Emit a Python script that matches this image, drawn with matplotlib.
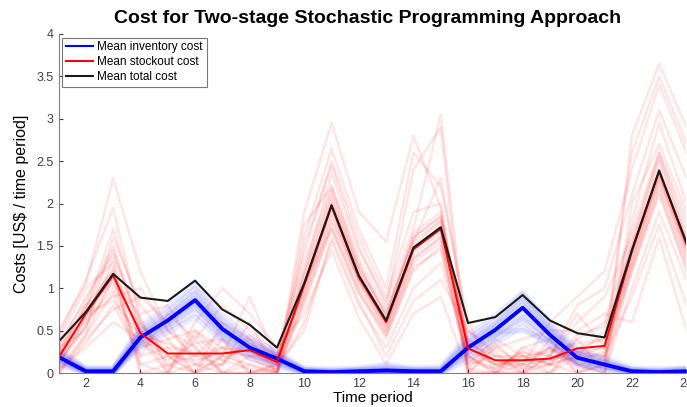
import matplotlib
matplotlib.use("Agg")
import matplotlib.pyplot as plt
import numpy as np

periods = list(range(1, 25))

mean_inventory = [0.19, 0.02, 0.02, 0.42, 0.62, 0.86, 0.52, 0.30, 0.17, 0.02, 0.01, 0.02,
                  0.03, 0.02, 0.02, 0.30, 0.51, 0.77, 0.45, 0.18, 0.10, 0.02, 0.01, 0.02]
mean_stockout = [0.18, 0.70, 1.15, 0.47, 0.23, 0.23, 0.23, 0.27, 0.13, 1.04, 1.97, 1.13,
                 0.60, 1.46, 1.70, 0.29, 0.15, 0.15, 0.17, 0.29, 0.32, 1.43, 2.38, 1.52]
mean_total = [0.37, 0.72, 1.17, 0.89, 0.85, 1.09, 0.75, 0.57, 0.30, 1.06, 1.98, 1.15,
              0.62, 1.48, 1.72, 0.59, 0.66, 0.92, 0.62, 0.47, 0.42, 1.45, 2.39, 1.54]

stockout_scenarios = [
    [0.05, 0.45, 0.95, 0.10, 0.00, 0.10, 0.30, 0.00, 0.00, 0.80, 1.75, 1.00, 0.45, 1.20, 1.50, 0.05, 0.00, 0.00, 0.10, 0.20, 0.30, 1.20, 2.20, 1.30],
    [0.30, 0.90, 1.40, 0.60, 0.20, 0.00, 0.10, 0.40, 0.20, 1.30, 2.20, 1.35, 0.75, 1.60, 1.85, 0.30, 0.10, 0.20, 0.00, 0.40, 0.60, 1.70, 2.60, 1.80],
    [0.50, 1.05, 2.30, 1.20, 0.50, 0.30, 0.00, 0.00, 0.05, 1.90, 2.95, 1.90, 1.55, 2.80, 1.95, 0.00, 0.30, 0.10, 0.30, 0.00, 0.10, 2.80, 3.65, 2.90],
    [0.10, 0.60, 1.00, 0.30, 0.40, 0.50, 0.20, 0.10, 0.00, 0.60, 1.55, 0.80, 0.30, 1.00, 1.30, 0.20, 0.00, 0.30, 0.40, 0.10, 0.00, 1.00, 1.90, 1.10],
    [0.20, 0.70, 1.25, 0.00, 0.10, 0.20, 0.50, 0.30, 0.10, 1.10, 2.05, 1.25, 0.70, 1.55, 2.30, 0.50, 0.20, 0.00, 0.20, 0.60, 0.90, 1.60, 2.55, 1.60],
    [0.00, 0.40, 0.75, 0.90, 0.60, 0.10, 0.00, 0.20, 0.00, 0.90, 1.80, 1.10, 0.50, 1.35, 1.60, 0.10, 0.40, 0.20, 0.10, 0.20, 0.20, 1.30, 2.30, 1.40],
    [0.35, 0.85, 1.50, 0.50, 0.00, 0.40, 0.80, 0.50, 0.25, 1.40, 2.50, 1.60, 0.90, 1.90, 2.00, 0.00, 0.00, 0.10, 0.60, 0.90, 1.20, 2.40, 3.40, 2.60],
    [0.15, 0.55, 1.10, 0.20, 0.30, 0.00, 0.20, 0.90, 0.15, 1.00, 1.95, 1.10, 0.60, 1.45, 1.75, 0.40, 0.10, 0.00, 0.00, 0.30, 0.40, 1.50, 2.40, 1.50],
    [0.25, 0.75, 1.70, 0.70, 0.80, 0.30, 0.00, 0.10, 0.00, 1.20, 2.35, 1.45, 0.85, 1.70, 3.05, 0.20, 0.05, 0.25, 0.10, 0.00, 0.10, 1.80, 2.95, 2.00],
    [0.05, 0.30, 0.60, 0.40, 0.00, 0.60, 1.00, 0.70, 0.30, 0.70, 1.45, 0.65, 0.10, 0.70, 0.90, 0.00, 0.30, 0.40, 0.50, 0.50, 0.70, 0.60, 1.60, 0.50],
    [0.40, 1.00, 1.30, 0.10, 0.20, 0.00, 0.40, 0.00, 0.10, 1.60, 2.65, 1.70, 1.00, 2.60, 2.20, 0.60, 0.00, 0.00, 0.20, 0.80, 1.00, 2.10, 3.10, 2.30],
    [0.10, 0.65, 0.90, 1.00, 0.50, 0.20, 0.10, 0.60, 0.00, 1.05, 1.70, 0.95, 0.40, 1.25, 1.45, 0.10, 0.20, 0.15, 0.30, 0.10, 0.00, 1.25, 2.15, 1.20],
    [0.20, 0.80, 1.20, 0.00, 0.00, 0.50, 0.30, 0.20, 0.20, 0.95, 2.00, 1.20, 0.55, 1.50, 1.80, 0.30, 0.15, 0.10, 0.00, 0.20, 0.50, 1.40, 2.35, 1.45],
    [0.30, 0.50, 1.60, 0.80, 0.40, 0.00, 0.60, 0.40, 0.00, 1.50, 2.45, 1.50, 0.80, 2.40, 2.90, 0.00, 0.00, 0.30, 0.20, 0.70, 0.30, 2.60, 3.50, 2.70],
    [0.00, 0.35, 0.80, 0.20, 0.70, 0.40, 0.00, 0.00, 0.10, 0.50, 1.60, 0.85, 0.20, 0.85, 1.10, 0.50, 0.25, 0.00, 0.40, 0.00, 0.20, 0.90, 1.75, 0.80],
    [0.45, 1.10, 1.95, 0.60, 0.10, 0.00, 0.20, 0.30, 0.00, 1.75, 2.20, 1.30, 0.65, 1.65, 1.90, 0.20, 0.00, 0.20, 0.10, 0.40, 0.00, 2.00, 2.70, 1.90],
    [0.15, 0.65, 1.20, 0.40, 0.20, 0.15, 0.25, 0.20, 0.10, 1.00, 1.90, 1.10, 0.55, 1.40, 1.65, 0.25, 0.10, 0.10, 0.15, 0.25, 0.30, 1.35, 2.30, 1.45],
    [0.25, 0.80, 1.05, 0.55, 0.30, 0.25, 0.15, 0.35, 0.15, 1.15, 2.10, 1.20, 0.65, 1.55, 1.80, 0.35, 0.20, 0.20, 0.25, 0.35, 0.40, 1.50, 2.50, 1.60],
    [0.10, 0.55, 1.35, 0.35, 0.15, 0.35, 0.40, 0.15, 0.05, 0.90, 1.85, 1.05, 0.50, 1.35, 1.60, 0.15, 0.05, 0.25, 0.20, 0.15, 0.25, 1.30, 2.25, 1.35],
    [0.30, 0.75, 1.45, 0.50, 0.25, 0.10, 0.10, 0.45, 0.20, 1.20, 2.15, 1.25, 0.70, 1.60, 1.85, 0.35, 0.15, 0.05, 0.10, 0.45, 0.55, 1.55, 2.60, 1.70],
    [0.20, 0.70, 0.85, 0.45, 0.35, 0.20, 0.30, 0.25, 0.10, 1.05, 2.00, 1.15, 0.60, 1.45, 1.70, 0.30, 0.10, 0.15, 0.15, 0.25, 0.20, 1.40, 2.35, 1.50],
    [0.00, 0.45, 1.15, 0.65, 0.05, 0.45, 0.15, 0.05, 0.00, 0.85, 1.70, 0.95, 0.45, 1.30, 1.55, 0.05, 0.35, 0.05, 0.30, 0.10, 0.15, 1.20, 2.10, 1.25],
]

inventory_scenarios = [
    [0.25, 0.05, 0.05, 0.50, 0.72, 1.00, 0.62, 0.38, 0.22, 0.04, 0.03, 0.04, 0.08, 0.04, 0.05, 0.40, 0.62, 0.93, 0.55, 0.25, 0.15, 0.04, 0.03, 0.05],
    [0.12, 0.00, 0.00, 0.33, 0.52, 0.72, 0.42, 0.22, 0.10, 0.00, 0.00, 0.00, 0.00, 0.00, 0.00, 0.20, 0.40, 0.62, 0.35, 0.10, 0.05, 0.00, 0.00, 0.00],
    [0.22, 0.03, 0.03, 0.45, 0.66, 0.92, 0.56, 0.33, 0.20, 0.03, 0.02, 0.03, 0.05, 0.03, 0.03, 0.35, 0.56, 0.85, 0.50, 0.22, 0.12, 0.03, 0.02, 0.04],
    [0.15, 0.01, 0.01, 0.38, 0.58, 0.80, 0.47, 0.26, 0.14, 0.01, 0.00, 0.01, 0.02, 0.01, 0.01, 0.25, 0.45, 0.70, 0.40, 0.14, 0.08, 0.01, 0.00, 0.01],
    [0.28, 0.06, 0.06, 0.55, 0.78, 1.05, 0.68, 0.42, 0.25, 0.06, 0.05, 0.06, 0.10, 0.06, 0.07, 0.45, 0.68, 0.95, 0.60, 0.28, 0.18, 0.06, 0.05, 0.06],
    [0.10, 0.00, 0.00, 0.30, 0.48, 0.66, 0.38, 0.18, 0.08, 0.00, 0.00, 0.00, 0.00, 0.00, 0.00, 0.15, 0.35, 0.55, 0.30, 0.08, 0.03, 0.00, 0.00, 0.00],
    [0.18, 0.02, 0.02, 0.40, 0.60, 0.84, 0.50, 0.28, 0.16, 0.02, 0.01, 0.02, 0.03, 0.02, 0.02, 0.28, 0.48, 0.50, 0.38, 0.16, 0.09, 0.02, 0.01, 0.02],
    [0.20, 0.02, 0.02, 0.44, 0.64, 0.88, 0.54, 0.32, 0.18, 0.02, 0.01, 0.02, 0.03, 0.02, 0.02, 0.32, 0.54, 0.80, 0.48, 0.20, 0.11, 0.02, 0.01, 0.02],
    [0.16, 0.01, 0.01, 0.36, 0.55, 0.78, 0.45, 0.24, 0.12, 0.01, 0.00, 0.01, 0.02, 0.01, 0.01, 0.24, 0.44, 0.66, 0.40, 0.13, 0.07, 0.01, 0.00, 0.01],
    [0.23, 0.04, 0.04, 0.48, 0.68, 0.95, 0.58, 0.35, 0.21, 0.04, 0.02, 0.04, 0.06, 0.04, 0.04, 0.37, 0.58, 0.88, 0.52, 0.23, 0.13, 0.04, 0.02, 0.04],
]

xticks = list(range(2, 25, 2))
yticks = [0, 0.5, 1, 1.5, 2, 2.5, 3, 3.5, 4]
ytick_labels = ["0", "0.5", "1", "1.5", "2", "2.5", "3", "3.5", "4"]

plt.rcParams['font.family'] = ['Liberation Sans', 'DejaVu Sans']

fig = plt.figure(figsize=(6.87, 4.07), dpi=100)
ax = fig.add_axes([0.0852, 0.0835, 0.9140, 0.8330])

for s in stockout_scenarios:
    ax.plot(periods, s, color=(1, 0, 0), alpha=0.10, lw=1.8)
for s in inventory_scenarios:
    ax.plot(periods, s, color=(0, 0, 1), alpha=0.08, lw=4.0)

ax.plot(periods, mean_inventory, color='#0000ff', lw=2.8, label='Mean inventory cost')
ax.plot(periods, mean_stockout, color='#ff0000', lw=1.4, label='Mean stockout cost')
ax.plot(periods, mean_total, color='#1a1a1a', lw=1.5, label='Mean total cost')

ax.set_xlim(1, 24)
ax.set_ylim(0, 4)
ax.set_xticks(xticks)
ax.set_yticks(yticks)
ax.set_yticklabels(ytick_labels)
ax.tick_params(direction='in', length=3, labelsize=9, colors='#404040', width=0.8)
for side in ['top', 'right']:
    ax.spines[side].set_visible(False)
for side in ['left', 'bottom']:
    ax.spines[side].set_color('#7f7f7f')
    ax.spines[side].set_linewidth(0.8)

ax.set_xlabel('Time period', fontsize=11, labelpad=1)
ax.set_ylabel('Costs [US$ / time period]', fontsize=11.5, labelpad=5)
fig.text(0.535, 0.955, 'Cost for Two-stage Stochastic Programming Approach',
         ha='center', va='center', fontsize=14, fontweight='bold')

leg = ax.legend(loc='upper left', fontsize=8.5, frameon=True, fancybox=False,
                borderaxespad=0.3, handlelength=2.3, handletextpad=0.4,
                labelspacing=0.25, borderpad=0.3)
leg.get_frame().set_edgecolor('#555555')
leg.get_frame().set_linewidth(0.8)
for line in leg.get_lines():
    line.set_linewidth(1.5)

fig.savefig('out.png', dpi=100)
